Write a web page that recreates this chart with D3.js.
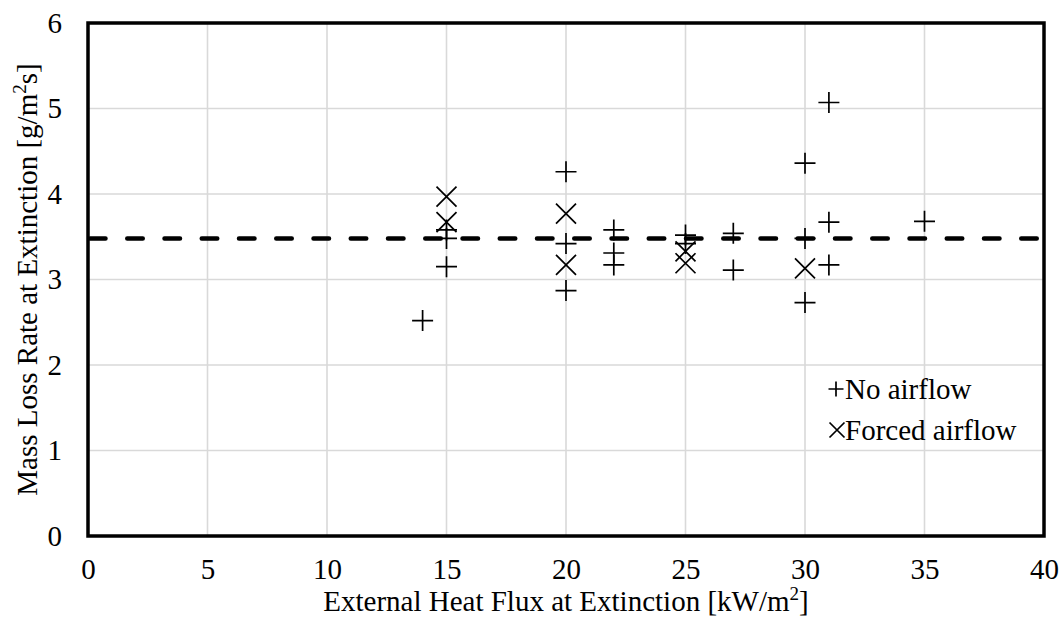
<!DOCTYPE html>
<html lang="en">
<head>
<meta charset="UTF-8">
<title>Mass loss rate at extinction</title>
<style>
  body { margin: 0; background: #fff; }
  svg { display: block; font-family: "Liberation Serif", "Times New Roman", serif; }
  .grid line { stroke: #d9d9d9; stroke-width: 1.6px; }
  .axis text { font-size: 29px; fill: #000; }
  .axis path, .axis line { display: none; }
</style>
</head>
<body>
<svg id="chart"></svg>
<script src="https://d3js.org/d3.v7.min.js"></script>
<script>
const xTicks = [0, 5, 10, 15, 20, 25, 30, 35, 40];
const yTicks = [0, 1, 2, 3, 4, 5, 6];

// no airflow (+)
const noAirX = [14, 15, 15, 15, 20, 20, 20, 22, 22, 22, 25, 25, 27, 27, 30, 30, 30, 31, 31, 31, 35];
const noAirY = [2.52, 3.58, 3.48, 3.15, 4.26, 3.42, 2.87, 3.58, 3.31, 3.17, 3.52, 3.42, 3.54, 3.11, 4.36, 3.48, 2.73, 5.07, 3.67, 3.17, 3.68];

// forced airflow (x)
const forcedX = [15, 15, 20, 20, 25, 25, 30];
const forcedY = [3.97, 3.67, 3.77, 3.17, 3.33, 3.19, 3.13];

const meanValue = 3.48;
const seriesNames = ['No airflow', 'Forced airflow'];

const width = 1063, height = 617;
const margin = { left: 88, right: 19, top: 23, bottom: 81 };
const serif = '"Liberation Serif", "Times New Roman", serif';

const svg = d3.select('#chart').attr('width', width).attr('height', height);

const x = d3.scaleLinear().domain([0, 40]).range([margin.left, width - margin.right]);
const y = d3.scaleLinear().domain([0, 6]).range([height - margin.bottom, margin.top]);

// gridlines
const grid = svg.append('g').attr('class', 'grid');
grid.selectAll('.v').data(xTicks.slice(1, -1)).enter().append('line')
  .attr('x1', d => x(d)).attr('x2', d => x(d))
  .attr('y1', y(0)).attr('y2', y(6));
grid.selectAll('.h').data(yTicks.slice(1, -1)).enter().append('line')
  .attr('x1', x(0)).attr('x2', x(40))
  .attr('y1', d => y(d)).attr('y2', d => y(d));

// axes (labels only)
svg.append('g').attr('class', 'axis')
  .attr('transform', `translate(0,${y(0)})`)
  .call(d3.axisBottom(x).tickValues(xTicks).tickFormat(d3.format('d')).tickSize(0).tickPadding(22))
  .attr('font-family', serif);
svg.append('g').attr('class', 'axis')
  .attr('transform', `translate(${x(0)},0)`)
  .call(d3.axisLeft(y).tickValues(yTicks).tickFormat(d3.format('d')).tickSize(0).tickPadding(26))
  .attr('font-family', serif);

// mean dashed line
svg.append('line')
  .attr('x1', x(0) + 2).attr('x2', x(40))
  .attr('y1', y(meanValue)).attr('y2', y(meanValue))
  .attr('stroke', '#000').attr('stroke-width', 4.5)
  .attr('stroke-linecap', 'round')
  .attr('stroke-dasharray', '15.5,21.75');

const plusPath = (cx, cy, r) => `M${cx - r},${cy}H${cx + r}M${cx},${cy - r}V${cy + r}`;
const crossPath = (cx, cy, r) => `M${cx - r},${cy - r}L${cx + r},${cy + r}M${cx - r},${cy + r}L${cx + r},${cy - r}`;

const noAir = noAirX.map((v, i) => ({ x: v, y: noAirY[i] }));
const forced = forcedX.map((v, i) => ({ x: v, y: forcedY[i] }));

svg.append('g').selectAll('path').data(noAir).enter().append('path')
  .attr('d', d => plusPath(x(d.x), y(d.y), 10.5))
  .attr('stroke', '#000').attr('stroke-width', 1.7).attr('fill', 'none');

svg.append('g').selectAll('path').data(forced).enter().append('path')
  .attr('d', d => crossPath(x(d.x), y(d.y), 10))
  .attr('stroke', '#000').attr('stroke-width', 1.7).attr('fill', 'none');

// frame
svg.append('rect')
  .attr('x', x(0)).attr('y', y(6))
  .attr('width', x(40) - x(0)).attr('height', y(0) - y(6))
  .attr('fill', 'none').attr('stroke', '#000').attr('stroke-width', 3.5);

// legend
const legend = svg.append('g').attr('transform', 'translate(836,389)');
legend.append('path').attr('d', plusPath(0, 0, 7.5))
  .attr('stroke', '#000').attr('stroke-width', 1.7);
legend.append('path').attr('d', crossPath(1, 41, 7.5))
  .attr('stroke', '#000').attr('stroke-width', 1.7);
legend.selectAll('text').data(seriesNames).enter().append('text')
  .attr('x', 9).attr('y', (d, i) => 10 + i * 41)
  .attr('font-size', 29)
  .text(d => d);

// axis titles
const xt = svg.append('text')
  .attr('x', (x(0) + x(40)) / 2).attr('y', 611)
  .attr('text-anchor', 'middle').attr('font-size', 29);
xt.append('tspan').text('External Heat Flux at Extinction [kW/m');
xt.append('tspan').attr('font-size', 19).attr('dy', -11).text('2');
xt.append('tspan').attr('dy', 11).text(']');

const yt = svg.append('text')
  .attr('transform', `translate(37,${(y(0) + y(6)) / 2}) rotate(-90)`)
  .attr('text-anchor', 'middle').attr('font-size', 29);
yt.append('tspan').text('Mass Loss Rate at Extinction [g/m');
yt.append('tspan').attr('font-size', 19).attr('dy', -11).text('2');
yt.append('tspan').attr('dy', 11).text('s]');
</script>
</body>
</html>
